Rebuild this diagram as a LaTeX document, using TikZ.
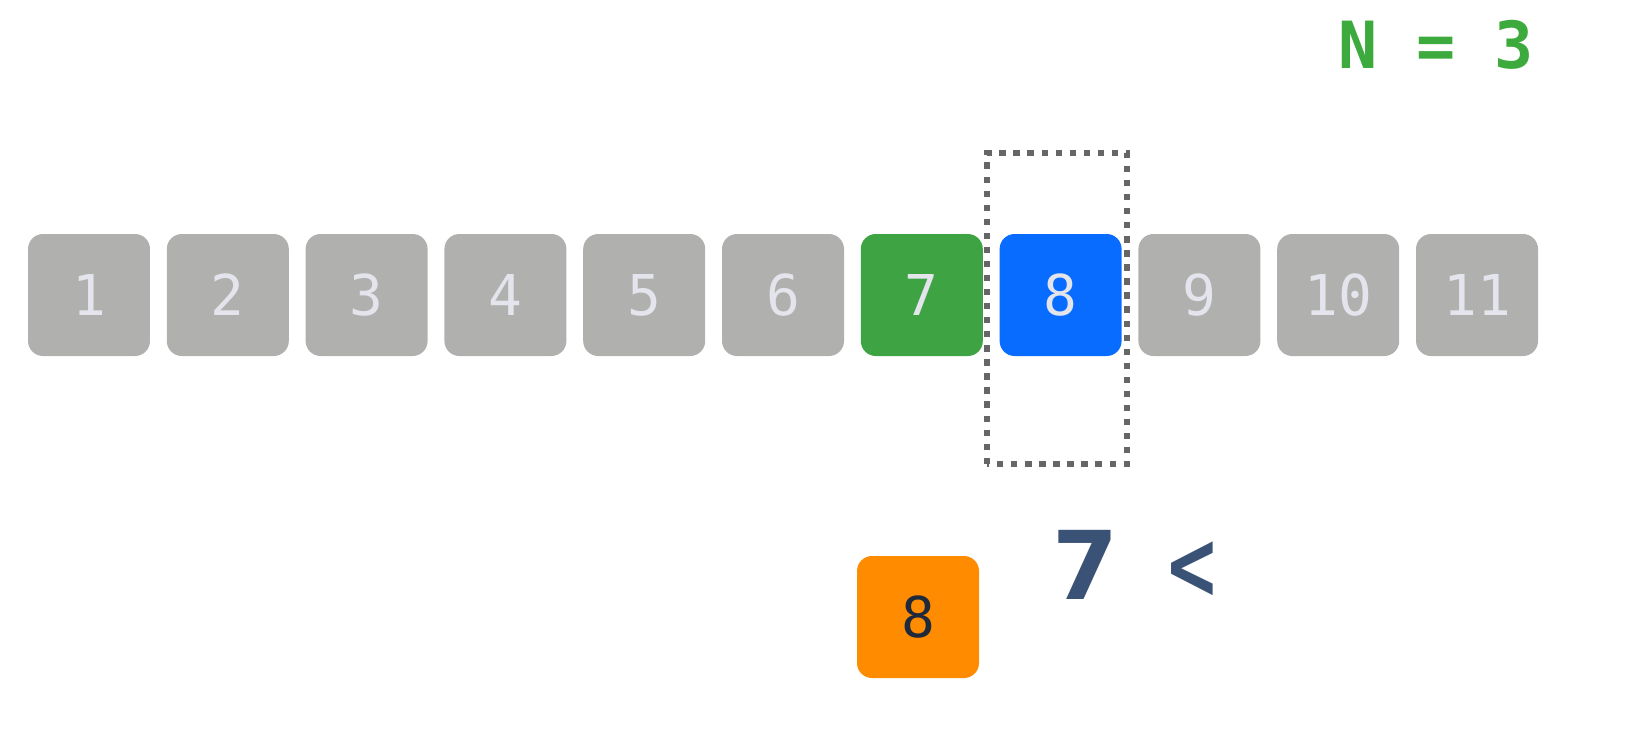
\documentclass[tikz,border=0pt]{standalone}
\usepackage{fontspec}
\setmonofont{DejaVu Sans Mono}
\setsansfont{DejaVu Sans}
\usetikzlibrary{positioning}

\definecolor{cellgray}{HTML}{B0B1AF}
\definecolor{celltext}{HTML}{E4E4EC}
\definecolor{cellgreen}{HTML}{3EA343}
\definecolor{cellblue}{HTML}{076CFF}
\definecolor{cellorange}{HTML}{FF8C00}
\definecolor{cmpnavy}{HTML}{3A5276}
\definecolor{pickdark}{HTML}{1E2A3C}
\definecolor{ngreen}{HTML}{3DAA3D}

\tikzset{
  cell/.style={rounded corners=0.15cm, minimum size=1.22cm, inner sep=0pt,
    text=celltext, font=\ttfamily\fontsize{16}{16}\selectfont},
  window/.style={draw=black!60, line width=1.8pt, dash pattern=on 1.8pt off 2.2pt},
  cmp/.style={text=cmpnavy, inner sep=0pt, font=\sffamily\bfseries\fontsize{27}{27}\selectfont}
}

\begin{document}
\begin{tikzpicture}[scale=0.1]
\useasboundingbox (0,0) rectangle (162.7,74.3);
\foreach \i/\c in {1/cellgray,2/cellgray,3/cellgray,4/cellgray,5/cellgray,6/cellgray,
                   7/cellgreen,8/cellblue,9/cellgray,10/cellgray,11/cellgray}
  \node[cell, fill=\c] (c\i) at ({8.9+13.88*(\i-1)},44.8) {\i};
\draw[window] (98.7,27.9) rectangle (112.7,59.0);
\node[cell, fill=cellorange, text=pickdark] (pick) at (91.8,12.6) {8};
\node[cmp] (lhs) at (108.5,17.8) {7};
\node[cmp] (op) at (119.2,17.3) {\scalebox{0.7}[1]{<}};
\node[text=ngreen, inner sep=0pt, font=\ttfamily\bfseries\fontsize{18.5}{18.5}\selectfont] (nval) at (143.6,69.85) {N = 3};
\end{tikzpicture}
\end{document}
